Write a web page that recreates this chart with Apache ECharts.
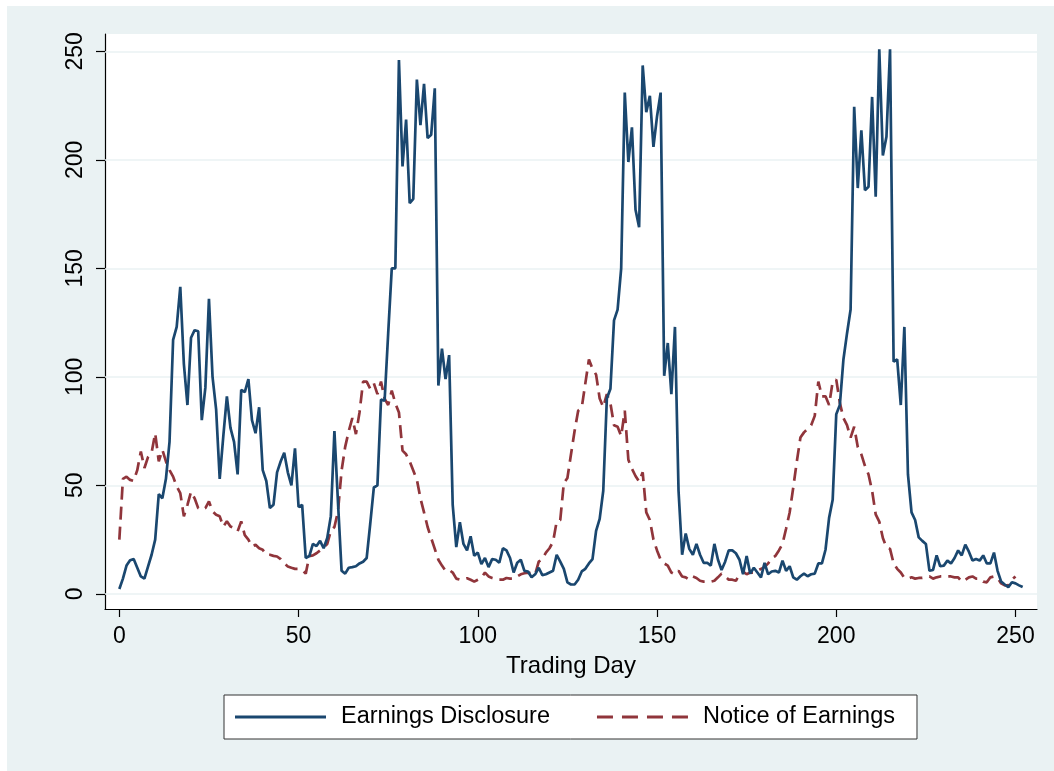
<!DOCTYPE html>
<html>
<head>
<meta charset="utf-8">
<script src="https://cdn.jsdelivr.net/npm/echarts@6/dist/echarts.min.js"></script>
<style>
  html, body { margin: 0; padding: 0; background: #ffffff; }
  #chart { position: absolute; left: 7px; top: 6px; width: 1047px; height: 765px; background: #EAF2F3; }
</style>
</head>
<body>
<div id="chart"></div>
<script>
// Earnings Disclosure, trading days 0..252
const earningsDisclosure = [
  2.2,7,13,15.5,16,12,8,7,12.5,18,
  25,46,44,53,70,117,123,141.5,106,87,
  118,121.5,121,80,95,136,100,85,53,72.6,
  91,76.5,70,55,94,93,99,80,74,86,
  57,52,39.5,41,56,61,65,56,50,67,
  40,41,16.5,17.4,23,22,24.4,21,25.7,35.8,
  75,42,10.6,9.3,12,12.3,12.7,14,14.8,16.5,
  32.4,49,50,89.5,89,120,150,150,246,197,
  218.6,180,182,237,216,235,210,211.6,233,96,
  113,99,110,41,21.5,33,23,20,26.5,17.5,
  19,13.7,16.5,12.3,16,15.7,14.3,21,20,16.5,
  9.8,14.3,15.7,10.6,10.3,7.6,9,12,8.6,9,
  9.8,10.6,18,14.8,11.5,5.3,4.3,4.3,6.5,10.3,
  11.5,14,16,29,34.5,47.5,90,94.5,126,131,
  150,231,199,215,177,169,243.5,222,229.5,206,
  220,231,100.5,115.6,92,123,47.5,18,27.8,20.7,
  18,23,18,14.3,14.3,13,23,15.7,11,14.8,
  20,20,18.7,15.7,9,17.4,9.3,12,9.8,7.6,
  14.3,9,10.3,10.6,9.8,15.3,10.6,12.7,7.6,6.5,
  8.1,9.3,8.1,9,9.3,14,14,20.3,35,43.3,
  82.8,87,108,120,131,224.5,187,213.6,186,187.6,
  229,183,251,202,210.6,251,107,108,87,123,
  55,37.5,34,26,24.4,23,10.6,11,17.7,12.7,
  13,15.3,14,16.5,20,17.7,22.7,19.4,15.3,16,
  15.3,17.7,14,14,19,10.6,5.6,4.3,3.1,5.3,
  4.8,3.9,3.1
];
// Notice of Earnings, trading days 0..250
const noticeOfEarnings = [
  25,53,54,52.5,52,57,65.6,58,63,65,
  74,61,66.4,61,57,54,49.5,46.4,35.7,41,
  47,44,39.5,38.7,39.5,42.6,38,36.4,35.7,31,
  33.4,31,30.3,28.8,33.4,27,25,21.8,22.6,21,
  20.3,18,18,17.5,17.2,16,14,12.6,12,11.5,
  11.5,11,9.3,17.4,17.7,18.7,20,21.5,23,29,
  30.8,38,56.8,67.7,75,81,73.6,83.6,97.8,97.8,
  94.5,97,92,97.8,90,87,93.7,87.8,83.6,66,
  64.3,61,56.8,52.6,44,37.5,30.8,25.7,20.7,15.7,
  13,10.6,11,9.8,7,6.5,6.8,7.2,6.5,5.6,
  6.5,7.3,9.8,8,7.3,6.8,6.5,6.5,7.3,7,
  7,8,9,9.5,9.8,9.5,9,14.8,16,19,
  21,24,33.3,34,51,53.4,64.3,75,84.4,85.8,
  97,108,103.7,101,90,86,92,87.8,77.7,77,
  72.7,84.4,61.8,57.6,54.3,51.7,56,37.5,34,25,
  20,15.7,14,13,9.8,9,10.6,8,7.6,6.5,
  8,7.3,6,5.6,5.6,5.6,6,7.6,9.3,8,
  6.5,6.5,6,9,10.3,9,9.8,9.8,10.6,11.5,
  12.3,14,16.5,17.4,20,23,30,37.5,49,61,
  72,74.4,76,77.7,82,97.8,91,91,87,97.8,
  98.7,88,81,77.7,72,77,67.7,64.3,59,55,
  47.5,36.6,33.3,25.7,21.5,20.7,14,11.5,9.8,7.3,
  7,7.6,7,7.3,7.3,7.6,8,7,7.6,8,
  8,8,8,7.6,7.6,5.6,6.5,7.6,8,7,
  7,5.6,5.3,7.6,8,7.3,4.8,3.9,3.9,6.5,
  8
];
const xTicks = [0, 50, 100, 150, 200, 250];
const yTicks = [0, 50, 100, 150, 200, 250];
const seriesNames = ['Earnings Disclosure', 'Notice of Earnings'];

const FONT = '"Liberation Sans", Arial, sans-serif';
const toPairs = arr => arr.map((v, i) => [i, v]);

const ICON_SOLID = 'path://M0,0H91V3H0Z';
const ICON_DASH = 'path://M0,0H16V3H0Z M25,0H41V3H25Z M50,0H66V3H50Z M75,0H91V3H75Z';

const chart = echarts.init(document.getElementById('chart'), null, { renderer: 'canvas' });
chart.setOption({
  animation: false,
  backgroundColor: '#EAF2F3',
  textStyle: { fontFamily: FONT, color: '#000' },
  grid: {
    left: 98, right: 17, top: 28, bottom: 162,
    show: true, backgroundColor: '#ffffff', borderWidth: 0
  },
  xAxis: {
    type: 'value', min: -4, max: 256,
    name: 'Trading Day', nameLocation: 'middle', nameGap: 45,
    nameTextStyle: { fontSize: 24, color: '#000', fontFamily: FONT },
    axisLine: { show: true, onZero: false, lineStyle: { color: '#000', width: 1.2 } },
    axisTick: { show: true, length: 8, lineStyle: { color: '#000', width: 1.2 }, customValues: xTicks },
    axisLabel: { fontSize: 23, color: '#000', margin: 16, fontFamily: FONT, customValues: xTicks },
    splitLine: { show: false }
  },
  yAxis: {
    type: 'value', min: -7, max: 258,
    axisLine: { show: true, onZero: false, lineStyle: { color: '#000', width: 1.2 } },
    axisTick: { show: true, length: 9, lineStyle: { color: '#000', width: 1.2 }, customValues: yTicks },
    axisLabel: { fontSize: 23, color: '#000', margin: 18, rotate: 90, fontFamily: FONT, customValues: yTicks },
    splitLine: { show: false }
  },
  legend: {
    left: 217, top: 689,
    orient: 'horizontal',
    padding: [10, 22, 10, 11],
    itemWidth: 91, itemHeight: 3, itemGap: 47,
    symbolKeepAspect: false,
    backgroundColor: '#ffffff', borderColor: '#333', borderWidth: 1, borderRadius: 0,
    textStyle: { fontSize: 23.5, color: '#000', fontFamily: FONT, padding: [0, 0, 0, 10], lineHeight: 24 },
    data: [
      { name: seriesNames[0], icon: ICON_SOLID, itemStyle: { color: '#1a476f' } },
      { name: seriesNames[1], icon: ICON_DASH, itemStyle: { color: '#90353b' } }
    ]
  },
  series: [
    {
      name: seriesNames[0], type: 'line', data: toPairs(earningsDisclosure),
      showSymbol: false, symbol: 'none',
      lineStyle: { color: '#1a476f', width: 2.7 },
      itemStyle: { color: '#1a476f' },
      z: 3,
      markLine: {
        silent: true, symbol: 'none', z: 1, animation: false,
        label: { show: false },
        lineStyle: { color: '#EAF2F3', width: 1.6, type: 'solid' },
        emphasis: { disabled: true },
        data: yTicks.map(v => ({ yAxis: v }))
      }
    },
    {
      name: seriesNames[1], type: 'line', data: toPairs(noticeOfEarnings),
      showSymbol: false, symbol: 'none',
      lineStyle: { color: '#90353b', width: 2.7, type: [13, 7] },
      itemStyle: { color: '#90353b' },
      z: 2
    }
  ]
});
</script>
</body>
</html>
